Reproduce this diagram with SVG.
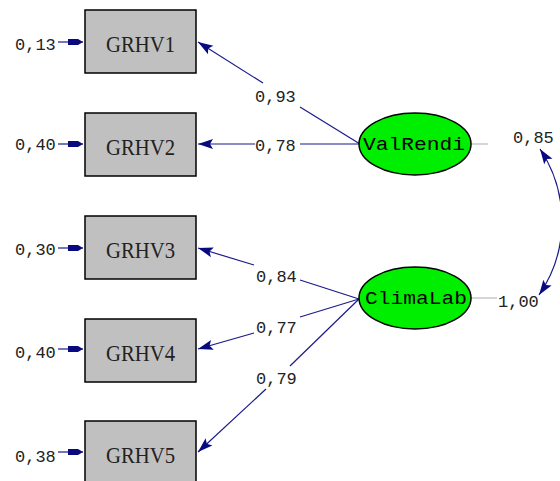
<svg xmlns="http://www.w3.org/2000/svg" width="560" height="481" viewBox="0 0 560 481">
<style>
.box{fill:#c0c0c0;stroke:#000;stroke-width:1.5}
.lat{fill:#00ee00;stroke:#000;stroke-width:1.5}
.bt{font-family:"Liberation Serif",serif;font-size:23px;fill:#222;text-anchor:middle}
.lt{font-family:"Liberation Mono",monospace;font-size:18px;fill:#000;text-anchor:middle}
.num{font-family:"Liberation Mono",monospace;font-size:17px;fill:#222}
.ln{fill:none;stroke:#1a1a8c;stroke-width:1.2}
.grey{fill:none;stroke:#c8c8c8;stroke-width:1.5}
</style>
<defs>
<marker id="ah" viewBox="-16 -6 17 12" refX="0" refY="0" markerWidth="17" markerHeight="12" markerUnits="userSpaceOnUse" orient="auto-start-reverse">
<path d="M0,0 L-15,-5 L-12,0 L-15,5 Z" fill="#0a0a80"/>
</marker>
<marker id="eh" viewBox="-16 -4 17 8" refX="0" refY="0" markerWidth="17" markerHeight="8" markerUnits="userSpaceOnUse" orient="auto">
<path d="M0,0 L-5,-3 L-15,-3 L-15,3 L-5,3 Z" fill="#0a0a80"/>
</marker>
</defs>
<g id="connectors">
<line class="ln" x1="58" y1="42" x2="83" y2="42" marker-end="url(#eh)"/>
<line class="ln" x1="58" y1="144" x2="83" y2="144" marker-end="url(#eh)"/>
<line class="ln" x1="58" y1="248" x2="83" y2="248" marker-end="url(#eh)"/>
<line class="ln" x1="58" y1="349" x2="83" y2="349" marker-end="url(#eh)"/>
<line class="ln" x1="58" y1="452" x2="83" y2="452" marker-end="url(#eh)"/>
<line class="ln" x1="263" y1="83" x2="198" y2="42" marker-end="url(#ah)"/>
<line class="ln" x1="300" y1="107" x2="360" y2="144"/>
<line class="ln" x1="255" y1="144" x2="198" y2="144" marker-end="url(#ah)"/>
<line class="ln" x1="300" y1="144" x2="360" y2="144"/>
<line class="ln" x1="254" y1="265" x2="198" y2="248" marker-end="url(#ah)"/>
<line class="ln" x1="300" y1="280" x2="359" y2="299"/>
<line class="ln" x1="254" y1="333" x2="198" y2="349" marker-end="url(#ah)"/>
<line class="ln" x1="300" y1="317" x2="359" y2="299"/>
<line class="ln" x1="266" y1="389" x2="198" y2="452" marker-end="url(#ah)"/>
<line class="ln" x1="290" y1="366" x2="359" y2="299"/>
<line class="grey" x1="471" y1="144" x2="488" y2="144"/>
<line class="grey" x1="471" y1="298" x2="497" y2="298"/>
<path class="ln" d="M540,149 A130,130 0 0,1 539,295" marker-start="url(#ah)" marker-end="url(#ah)"/>
<text class="num" x="255" y="102">0,93</text>
<text class="num" x="255" y="151">0,78</text>
<text class="num" x="256" y="282">0,84</text>
<text class="num" x="256" y="333">0,77</text>
<text class="num" x="256" y="384">0,79</text>
<text class="num" x="513" y="143">0,85</text>
<text class="num" x="498" y="307">1,00</text>
</g>
<g id="GRHV1"><rect class="box" x="85" y="10" width="111" height="63"/><text class="bt" x="140.5" y="52" textLength="69" lengthAdjust="spacingAndGlyphs">GRHV1</text><text class="num" x="15" y="50">0,13</text></g>
<g id="GRHV2"><rect class="box" x="85" y="113" width="111" height="63"/><text class="bt" x="140.5" y="155" textLength="69" lengthAdjust="spacingAndGlyphs">GRHV2</text><text class="num" x="15" y="150">0,40</text></g>
<g id="GRHV3"><rect class="box" x="85" y="216" width="111" height="63"/><text class="bt" x="140.5" y="258" textLength="69" lengthAdjust="spacingAndGlyphs">GRHV3</text><text class="num" x="15" y="255">0,30</text></g>
<g id="GRHV4"><rect class="box" x="85" y="319" width="111" height="63"/><text class="bt" x="140.5" y="361" textLength="69" lengthAdjust="spacingAndGlyphs">GRHV4</text><text class="num" x="15" y="358">0,40</text></g>
<g id="GRHV5"><rect class="box" x="85" y="421" width="111" height="63"/><text class="bt" x="140.5" y="463" textLength="69" lengthAdjust="spacingAndGlyphs">GRHV5</text><text class="num" x="15" y="462">0,38</text></g>
<g id="ValRendi"><ellipse class="lat" cx="415" cy="144" rx="56" ry="31"/><text class="lt" x="414" y="150" textLength="102" lengthAdjust="spacingAndGlyphs">ValRendi</text></g>
<g id="ClimaLab"><ellipse class="lat" cx="415" cy="298" rx="56" ry="31"/><text class="lt" x="416" y="304" textLength="102" lengthAdjust="spacingAndGlyphs">ClimaLab</text></g>
</svg>
